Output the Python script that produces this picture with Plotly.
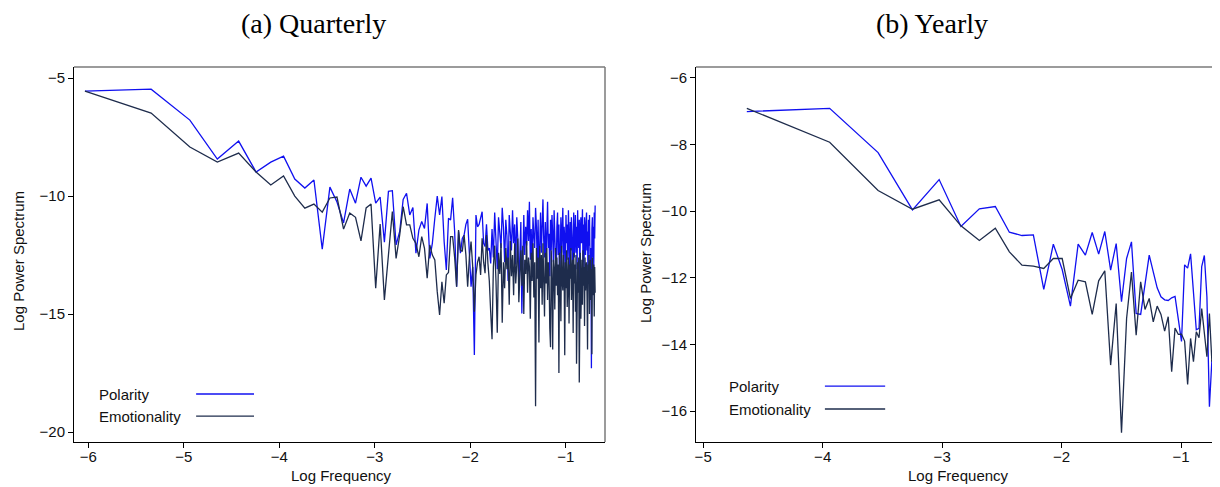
import numpy as np
import plotly.graph_objects as go
from plotly.subplots import make_subplots

# sample sizes behind the two periodograms (frequencies k/n, k = 1..n/2)
n_quarters = 418
n_years = 103

# log power spectrum, quarterly series (k = 1..209)
q_polarity = [
    -5.55, -5.47, -6.78, -8.43, -7.67, -8.98, -8.56, -8.31, -9.28, -9.66,
    -9.32, -12.25, -9.62, -10.25, -11.14, -9.70, -10.30, -9.20, -9.58, -9.24,
    -10.30, -10.04, -11.95, -9.80, -9.77, -12.07, -11.50, -10.14, -9.88, -10.80,
    -10.48, -12.42, -11.44, -11.08, -11.37, -10.31, -12.64, -12.00, -10.94, -10.00,
    -10.80, -10.02, -11.93, -13.13, -10.94, -11.01, -10.07, -11.50, -13.84, -11.50,
    -12.42, -11.80, -11.65, -11.20, -10.98, -12.50, -13.84, -13.00, -16.73, -10.80,
    -11.30, -11.20, -10.90, -10.66, -12.00, -12.14, -11.20, -12.30, -12.20, -12.85,
    -11.4, -12.6, -10.7, -11.9, -13.1, -10.9, -11.6, -12.2, -10.5, -11.3,
    -12.8, -11.0, -11.7, -13.6, -10.8, -11.5, -12.3, -10.6, -12.0, -11.2,
    -12.9, -10.9, -11.8, -13.9, -12.4, -11.1, -14.97, -11.6, -10.8, -12.5,
    -11.3, -12.1, -10.6, -11.9, -10.24, -12.7, -11.4, -13.2, -10.9, -11.7,
    -12.2, -10.5, -11.3, -12.9, -11.0, -13.5, -11.8, -10.7, -12.4, -11.2,
    -10.14, -11.9, -12.6, -11.1, -13.0, -11.5, -10.24, -12.2, -11.6, -13.4,
    -11.0, -12.3, -10.8, -11.7, -12.8, -10.6, -11.4, -12.1, -13.7, -11.3,
    -10.7, -12.5, -11.2, -14.1, -11.9, -10.9, -12.4, -11.5, -10.5, -12.9,
    -11.3, -11.8, -13.3, -10.8, -12.0, -11.2, -12.7, -10.6, -11.6, -13.0,
    -11.1, -12.3, -10.9, -11.7, -13.8, -11.4, -10.7, -12.6, -11.9, -10.8,
    -12.4, -11.3, -13.1, -10.6, -11.8, -12.2, -11.0, -13.5, -11.5, -10.9,
    -12.0, -11.6, -10.56, -12.8, -11.2, -13.2, -10.9, -11.7, -12.5, -11.1,
    -10.7, -12.3, -11.5, -13.6, -11.0, -12.1, -10.8, -11.9, -14.3, -12.2,
    -17.3, -11.4, -10.9, -12.6, -11.3, -13.0, -10.7, -11.8, -10.4,
]
q_emotionality = [
    -5.55, -6.48, -7.92, -8.56, -8.18, -8.98, -9.53, -9.15, -10.00, -10.51,
    -10.34, -10.68, -10.08, -10.04, -11.40, -10.72, -10.90, -11.90, -10.50, -10.34,
    -13.90, -11.18, -14.40, -12.60, -10.66, -12.64, -11.65, -10.45, -11.22, -11.22,
    -11.79, -12.00, -12.57, -11.72, -12.21, -13.48, -12.07, -12.50, -12.71, -14.05,
    -15.04, -13.63, -14.54, -13.34, -13.24, -11.72, -11.72, -12.60, -13.84, -11.44,
    -12.28, -12.35, -11.65, -12.50, -13.84, -12.60, -11.93, -13.00, -14.90, -13.34,
    -12.80, -12.57, -13.34, -11.79, -12.80, -13.27, -11.65, -12.85, -13.60, -14.90,
    -16.07, -13.0, -12.1, -13.6, -15.79, -12.4, -13.3, -12.0, -15.37, -12.8,
    -13.9, -12.2, -13.1, -12.6, -14.6, -11.9, -13.4, -12.5, -14.2, -12.0,
    -13.7, -12.9, -11.8, -14.5, -13.2, -12.3, -13.8, -12.1, -15.0, -12.7,
    -13.3, -11.9, -14.1, -12.6, -13.0, -15.2, -12.4, -13.6, -12.0, -14.3,
    -12.8, -18.9, -12.2, -13.5, -12.6, -16.2, -12.1, -13.9, -12.5, -14.6,
    -12.0, -13.2, -15.1, -12.4, -13.7, -12.2, -14.4, -12.8, -13.4, -15.6,
    -16.4, -12.3, -13.5, -16.5, -12.7, -13.1, -14.8, -12.2, -13.8, -12.6,
    -14.2, -12.9, -17.5, -12.4, -13.3, -15.3, -12.1, -13.6, -14.0, -12.5,
    -13.2, -16.74, -12.8, -13.9, -12.3, -14.7, -13.0, -12.6, -15.4, -12.9,
    -13.5, -12.2, -14.4, -13.1, -12.7, -15.8, -12.4, -13.7, -12.9, -14.9,
    -12.5, -17.1, -13.3, -12.8, -14.1, -12.6, -17.9, -13.0, -12.4, -15.2,
    -13.4, -12.7, -14.6, -12.3, -13.8, -13.0, -15.5, -12.6, -14.0, -13.2,
    -12.8, -14.3, -16.5, -12.9, -13.6, -12.5, -15.0, -13.3, -12.7, -14.4,
    -13.1, -16.7, -12.6, -14.2, -13.5, -12.9, -15.1, -13.0, -14.1,
]

# log power spectrum, yearly series (k = 1..51)
y_polarity = [
    -7.01, -6.91, -8.24, -9.96, -9.05, -10.46, -9.93, -9.86, -10.63, -10.73,
    -10.71, -12.35, -10.99, -11.75, -12.85, -10.99, -11.32, -10.64, -11.29, -10.61,
    -11.77, -10.97, -12.72, -11.42, -10.92, -13.07, -13.10, -12.20, -11.32, -11.82,
    -12.30, -12.57, -12.66, -12.68, -12.60, -12.56, -13.31, -13.91, -11.61, -11.71,
    -11.28, -12.50, -13.56, -13.52, -11.66, -11.33, -12.57, -15.87, -14.47, -14.92,
    -14.45,
]
y_emotionality = [
    -6.91, -7.93, -9.38, -9.94, -9.66, -10.44, -10.88, -10.51, -11.22, -11.62,
    -11.65, -11.72, -11.42, -11.42, -12.62, -12.07, -12.12, -13.10, -12.09, -11.79,
    -14.62, -12.77, -16.65, -13.22, -11.83, -13.72, -12.12, -12.95, -12.62, -13.32,
    -12.85, -13.10, -13.60, -13.17, -14.82, -13.51, -13.70, -13.69, -13.90, -15.20,
    -13.82, -14.52, -13.62, -13.80, -12.92, -13.60, -14.37, -13.07, -14.52, -13.40,
    -12.85,
]

series_names = ["Polarity", "Emotionality"]
panel_titles = ["(a) Quarterly", "(b) Yearly"]

blue = "#1010f0"
navy = "#1e2c4c"
frame_grey = "#7a7a7a"
sans = "Liberation Sans"

q_freq = np.log(np.arange(1, len(q_polarity) + 1) / n_quarters)
y_freq = np.log(np.arange(1, len(y_polarity) + 1) / n_years)

fig = make_subplots(rows=1, cols=2)

for col, (xs, pol, emo) in enumerate(
    [(q_freq, q_polarity, q_emotionality), (y_freq, y_polarity, y_emotionality)], start=1
):
    fig.add_trace(go.Scatter(x=xs, y=pol, mode="lines", name=series_names[0],
                             line=dict(color=blue, width=1.3)), row=1, col=col)
    fig.add_trace(go.Scatter(x=xs, y=emo, mode="lines", name=series_names[1],
                             line=dict(color=navy, width=1.3)), row=1, col=col)

# page body adds an 8px margin, so the figure itself is 8px smaller
W, H = 1212, 479
off = 8
y_dom = [(H - (442 - off)) / H, (H - (67 - off)) / H]

axis_common = dict(
    showgrid=False, zeroline=False, showline=True, linecolor="black", linewidth=1,
    ticks="outside", ticklen=5, tickcolor="black",
    tickfont=dict(family=sans, size=15, color="#111111"),
)

fig.update_xaxes(axis_common)
fig.update_yaxes(axis_common)
fig.update_xaxes(ticklabelstandoff=-4)

fig.update_xaxes(domain=[(74 - off) / W, (605 - off) / W], range=[-6.15, -0.59],
                 tickvals=[-6, -5, -4, -3, -2, -1], row=1, col=1)
fig.update_xaxes(domain=[(696 - off) / W, 1.0], range=[-5.06, -0.675],
                 tickvals=[-5, -4, -3, -2, -1], row=1, col=2)
fig.update_yaxes(domain=y_dom, range=[-20.42, -4.53],
                 tickvals=[-20, -15, -10, -5], row=1, col=1)
fig.update_yaxes(domain=y_dom, range=[-16.93, -5.67],
                 tickvals=[-16, -14, -12, -10, -8, -6], row=1, col=2)

# grey frame on top (both panels) and right (left panel)
for xr, yr, right in [("x", "y", True), ("x2", "y2", False)]:
    fig.add_shape(type="line", xref=xr + " domain", yref=yr + " domain",
                  x0=0, x1=1, y0=1, y1=1, line=dict(color=frame_grey, width=1.5))
    if right:
        fig.add_shape(type="line", xref=xr + " domain", yref=yr + " domain",
                      x0=1, x1=1, y0=0, y1=1, line=dict(color=frame_grey, width=1.5))

# in-plot legends: label on the left, line sample on the right
legend_spots = [
    ("x", "y", 0.043, 0.230, 0.339, [0.128, 0.069]),
    ("x2", "y2", 0.059, 0.246, 0.361, [0.149, 0.088]),
]
for xr, yr, tx, l0, l1, ys in legend_spots:
    for name, colr, yy in zip(series_names, [blue, navy], ys):
        fig.add_annotation(xref=xr + " domain", yref=yr + " domain", x=tx, y=yy,
                           text=name, showarrow=False, xanchor="left", yanchor="middle",
                           font=dict(family=sans, size=15, color="#111111"))
        fig.add_shape(type="line", xref=xr + " domain", yref=yr + " domain",
                      x0=l0, x1=l1, y0=yy, y1=yy, line=dict(color=colr, width=1.3))

# panel titles
for txt, px in zip(panel_titles, [313, 932]):
    fig.add_annotation(xref="paper", yref="paper", x=(px - off) / W, y=1 - (24 - off) / H,
                       text=txt, showarrow=False, xanchor="center", yanchor="middle",
                       font=dict(family="Liberation Serif", size=28, color="black"))

# axis titles
for px, py in [(18, 261), (645, 253)]:
    fig.add_annotation(xref="paper", yref="paper", x=(px - off) / W, y=1 - (py - off) / H,
                       text="Log Power Spectrum", textangle=-90, showarrow=False,
                       xanchor="center", yanchor="middle",
                       font=dict(family=sans, size=15, color="#111111"))
for px in [341, 958]:
    fig.add_annotation(xref="paper", yref="paper", x=(px - off) / W, y=1 - (475 - off) / H,
                       text="Log Frequency", showarrow=False,
                       xanchor="center", yanchor="middle",
                       font=dict(family=sans, size=15, color="#111111"))

fig.update_layout(
    width=W, height=H, margin=dict(l=0, r=0, t=0, b=0),
    paper_bgcolor="white", plot_bgcolor="white", showlegend=False,
)

fig.write_html("out.html")
